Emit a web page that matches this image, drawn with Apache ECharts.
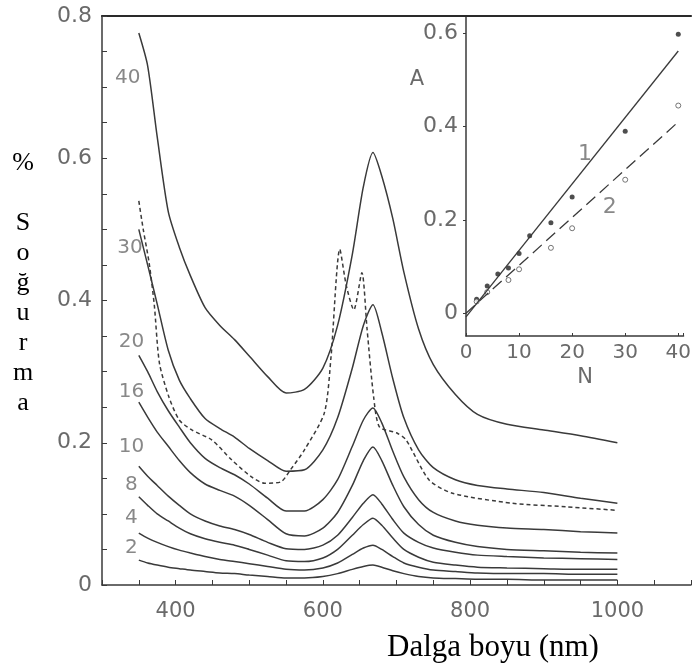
<!DOCTYPE html>
<html>
<head>
<meta charset="utf-8">
<script src="https://cdn.jsdelivr.net/npm/echarts@6/dist/echarts.min.js"></script>
<style>
html, body { margin: 0; padding: 0; background: #fff; }
#chart { width: 694px; height: 665px; }
</style>
</head>
<body>
<div id="chart"></div>
<script>
// ana grafik: dalga boyu (nm) ve soğurma degerleri
var wavelengths = [350, 362, 375, 390, 405, 420, 440, 460, 480, 500, 525, 550, 575, 600, 620, 640, 655, 668, 680, 695, 710, 730, 750, 780, 810, 850, 900, 950, 1000];
var abs40 = [0.776, 0.73, 0.63, 0.525, 0.475, 0.435, 0.39, 0.365, 0.345, 0.322, 0.293, 0.27, 0.275, 0.305, 0.365, 0.465, 0.56, 0.608, 0.575, 0.515, 0.44, 0.36, 0.31, 0.268, 0.24, 0.226, 0.218, 0.21, 0.2];
var abs30 = [0.5, 0.45, 0.395, 0.33, 0.288, 0.262, 0.234, 0.22, 0.208, 0.192, 0.175, 0.16, 0.162, 0.19, 0.235, 0.305, 0.365, 0.394, 0.355, 0.29, 0.235, 0.19, 0.165, 0.148, 0.14, 0.135, 0.13, 0.122, 0.115];
var abs20 = [0.323, 0.3, 0.272, 0.245, 0.222, 0.2, 0.178, 0.165, 0.155, 0.142, 0.122, 0.104, 0.104, 0.12, 0.148, 0.195, 0.232, 0.249, 0.228, 0.188, 0.152, 0.12, 0.102, 0.09, 0.084, 0.08, 0.078, 0.075, 0.073];
var abs16 = [0.257, 0.236, 0.215, 0.195, 0.175, 0.158, 0.142, 0.133, 0.125, 0.112, 0.092, 0.072, 0.069, 0.08, 0.102, 0.14, 0.175, 0.194, 0.175, 0.14, 0.11, 0.085, 0.07, 0.06, 0.054, 0.05, 0.048, 0.046, 0.045];
var abs10 = [0.167, 0.153, 0.14, 0.125, 0.112, 0.1, 0.09, 0.083, 0.078, 0.071, 0.06, 0.051, 0.05, 0.056, 0.07, 0.095, 0.115, 0.127, 0.114, 0.092, 0.073, 0.06, 0.052, 0.046, 0.042, 0.04, 0.038, 0.037, 0.036];
var abs8 = [0.124, 0.112, 0.1, 0.09, 0.08, 0.072, 0.065, 0.06, 0.056, 0.05, 0.042, 0.034, 0.033, 0.038, 0.05, 0.07, 0.085, 0.094, 0.084, 0.066, 0.05, 0.039, 0.032, 0.028, 0.025, 0.024, 0.023, 0.022, 0.022];
var abs4 = [0.073, 0.066, 0.06, 0.054, 0.049, 0.045, 0.04, 0.036, 0.033, 0.03, 0.026, 0.022, 0.021, 0.024, 0.031, 0.043, 0.052, 0.056, 0.05, 0.04, 0.031, 0.025, 0.021, 0.019, 0.017, 0.016, 0.016, 0.015, 0.015];
var abs2 = [0.035, 0.031, 0.028, 0.025, 0.023, 0.021, 0.019, 0.017, 0.016, 0.014, 0.012, 0.01, 0.01, 0.012, 0.016, 0.022, 0.026, 0.028, 0.025, 0.02, 0.016, 0.012, 0.01, 0.009, 0.008, 0.008, 0.007, 0.007, 0.007];

// kesikli egri
var dashedWl = [350, 356, 364, 371, 378, 391, 405, 422, 449, 476, 503, 521, 543, 556, 575, 602, 611, 623, 632, 642, 653, 660, 669, 677, 700, 713, 744, 776, 857, 930, 1000];
var dashedAbs = [0.54, 0.5, 0.453, 0.394, 0.312, 0.264, 0.232, 0.218, 0.204, 0.176, 0.152, 0.143, 0.145, 0.162, 0.19, 0.242, 0.32, 0.472, 0.42, 0.387, 0.439, 0.36, 0.264, 0.222, 0.214, 0.204, 0.148, 0.129, 0.115, 0.11, 0.105];

// egri etiketleri
var curveNames = ['40', '30', '20', '16', '10', '8', '4', '2'];
var curveLabelWl = [335, 338, 340, 340, 340, 340, 340, 340];
var curveLabelAbs = [0.713, 0.474, 0.342, 0.271, 0.194, 0.141, 0.094, 0.052];

// ic grafik: A - N
var insetN1 = [2, 4, 6, 8, 10, 12, 16, 20, 30, 40];
var insetA1 = [0.03, 0.058, 0.084, 0.097, 0.128, 0.166, 0.194, 0.249, 0.39, 0.598];
var insetN2 = [2, 4, 8, 10, 16, 20, 30, 40];
var insetA2 = [0.025, 0.045, 0.071, 0.094, 0.14, 0.182, 0.286, 0.445];
var fit1N = [0, 40];
var fit1A = [-0.008, 0.562];
var fit2N = [0, 40];
var fit2A = [0.0, 0.41];
var fitNames = ['1', '2'];
var fitLabelN = [22.4, 27.1];
var fitLabelA = [0.34, 0.227];

var lineColor = '#3a3a3a';
var textColor = '#6a6a6a';
var numFont = 'DejaVu Sans';

function pairs(xs, ys) {
    return xs.map(function(x, i) { return [x, ys[i]]; });
}

function curve(name, ys) {
    return {
        name: name,
        type: 'line',
        xAxisIndex: 0,
        yAxisIndex: 0,
        data: pairs(wavelengths, ys),
        showSymbol: false,
        smooth: 0.25,
        lineStyle: { color: lineColor, width: 1.5 },
        silent: true
    };
}

var myChart = echarts.init(document.getElementById('chart'));

var option = {
    animation: false,
    backgroundColor: '#fff',
    grid: [
        { left: 102, top: 16, right: -4, bottom: 80 },
        { left: 466, top: 16, right: 0, bottom: 329 }
    ],
    xAxis: [
        {
            type: 'value', gridIndex: 0, min: 300, max: 1100, interval: 50,
            axisLine: { lineStyle: { color: lineColor, width: 1.5 } },
            axisTick: { inside: true, length: 5, lineStyle: { color: lineColor } },
            splitLine: { show: false },
            axisLabel: {
                margin: 16, color: textColor, fontFamily: numFont, fontSize: 21,
                formatter: function(v) { return (v >= 400 && v <= 1000 && v % 200 === 0) ? String(v) : ''; }
            }
        },
        {
            type: 'value', gridIndex: 0, min: 300, max: 1100, position: 'top',
            axisLine: { lineStyle: { color: '#2a2a2a', width: 2.2 } },
            axisTick: { show: false }, axisLabel: { show: false }, splitLine: { show: false }
        },
        {
            type: 'value', gridIndex: 1, min: 0, max: 41, interval: 10,
            axisLine: { onZero: false, lineStyle: { color: lineColor, width: 1.5 } },
            axisTick: { inside: true, length: 3, lineStyle: { color: lineColor } },
            splitLine: { show: false },
            axisLabel: {
                margin: 7, color: textColor, fontFamily: numFont, fontSize: 20,
                formatter: function(v) { return v % 10 === 0 ? String(v) : ''; }
            }
        }
    ],
    yAxis: [
        {
            type: 'value', gridIndex: 0, min: 0, max: 0.8, interval: 0.05,
            axisLine: { show: true, lineStyle: { color: lineColor, width: 1.5 } },
            axisTick: { show: true, inside: true, length: 5, lineStyle: { color: lineColor } },
            splitLine: { show: false },
            axisLabel: {
                margin: 10, color: textColor, fontFamily: numFont, fontSize: 22,
                formatter: function(v) {
                    var r = Math.round(v * 5);
                    if (Math.abs(v * 5 - r) > 1e-6) return '';
                    return r === 0 ? '0' : (r / 5).toFixed(1);
                }
            }
        },
        {
            type: 'value', gridIndex: 1, min: -0.049, max: 0.637,
            axisLine: { show: true, onZero: false, lineStyle: { color: lineColor, width: 1.5 } },
            axisTick: { show: true, length: 3, customValues: [0, 0.2, 0.4, 0.6], lineStyle: { color: lineColor } },
            splitLine: { show: false },
            axisLabel: {
                margin: 8, color: textColor, fontFamily: numFont, fontSize: 22,
                customValues: [0, 0.2, 0.4, 0.6],
                formatter: function(v) { return v === 0 ? '0' : v.toFixed(1); }
            }
        }
    ],
    graphic: [
        {
            type: 'text', x: 23, y: 148,
            style: {
                text: '%\n\nS\no\nğ\nu\nr\nm\na',
                font: '26px "Liberation Serif"', fill: '#000',
                textAlign: 'center', textVerticalAlign: 'top', lineHeight: 30
            }
        },
        {
            type: 'text', x: 493, y: 648,
            style: {
                text: 'Dalga boyu (nm)', font: '31px "Liberation Serif"', fill: '#000',
                textAlign: 'center', textVerticalAlign: 'middle'
            }
        },
        {
            type: 'text', x: 417, y: 80,
            style: { text: 'A', font: '21px "DejaVu Sans"', fill: textColor, textAlign: 'center', textVerticalAlign: 'middle' }
        },
        {
            type: 'text', x: 585, y: 378,
            style: { text: 'N', font: '21px "DejaVu Sans"', fill: textColor, textAlign: 'center', textVerticalAlign: 'middle' }
        }
    ],
    series: [
        curve('40', abs40),
        curve('30', abs30),
        curve('20', abs20),
        curve('16', abs16),
        curve('10', abs10),
        curve('8', abs8),
        curve('4', abs4),
        curve('2', abs2),
        {
            name: 'kesikli',
            type: 'line', xAxisIndex: 0, yAxisIndex: 0,
            data: pairs(dashedWl, dashedAbs),
            showSymbol: false, smooth: 0.25, silent: true,
            lineStyle: { color: lineColor, width: 1.5, type: [4, 3] }
        },
        {
            name: 'etiketler',
            type: 'scatter', xAxisIndex: 0, yAxisIndex: 0,
            symbolSize: 0, silent: true,
            data: curveNames.map(function(n, i) { return { name: n, value: [curveLabelWl[i], curveLabelAbs[i]] }; }),
            label: {
                show: true, position: 'inside', formatter: '{b}',
                color: textColor, fontFamily: numFont, fontSize: 20
            }
        },
        // ic grafik
        {
            name: 'fit1', type: 'line', xAxisIndex: 2, yAxisIndex: 1,
            data: pairs(fit1N, fit1A), showSymbol: false, silent: true,
            lineStyle: { color: lineColor, width: 1.3 }
        },
        {
            name: 'fit2', type: 'line', xAxisIndex: 2, yAxisIndex: 1,
            data: pairs(fit2N, fit2A), showSymbol: false, silent: true,
            lineStyle: { color: lineColor, width: 1.3, type: [12, 6] }
        },
        {
            name: '1', type: 'scatter', xAxisIndex: 2, yAxisIndex: 1,
            data: pairs(insetN1, insetA1), symbol: 'circle', symbolSize: 5,
            itemStyle: { color: '#222' }, silent: true
        },
        {
            name: '2', type: 'scatter', xAxisIndex: 2, yAxisIndex: 1,
            data: pairs(insetN2, insetA2), symbol: 'circle', symbolSize: 5,
            itemStyle: { color: '#fff', borderColor: '#555', borderWidth: 1 }, silent: true
        },
        {
            name: 'fitEtiket', type: 'scatter', xAxisIndex: 2, yAxisIndex: 1,
            symbolSize: 0, silent: true,
            data: fitNames.map(function(n, i) { return { name: n, value: [fitLabelN[i], fitLabelA[i]] }; }),
            label: {
                show: true, position: 'inside', formatter: '{b}',
                color: textColor, fontFamily: numFont, fontSize: 22
            }
        }
    ]
};

myChart.setOption(option);
</script>
</body>
</html>
